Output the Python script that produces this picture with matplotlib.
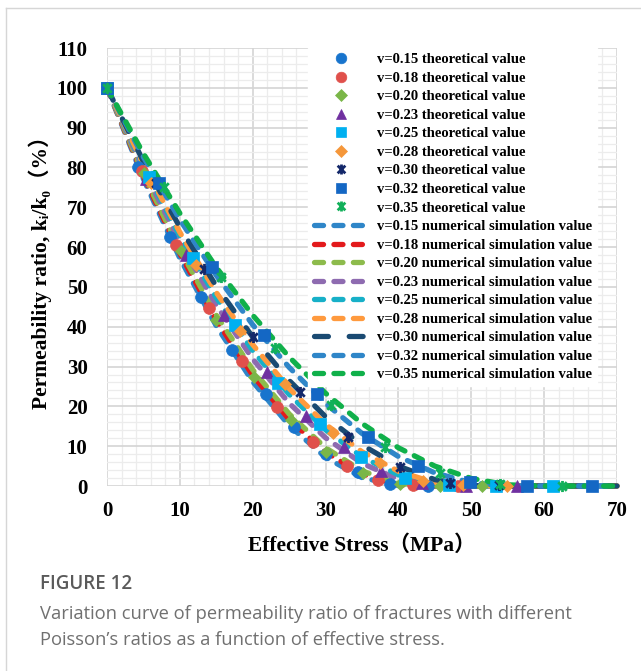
import matplotlib

matplotlib.use("Agg")
import matplotlib.pyplot as plt
from matplotlib.lines import Line2D
from matplotlib.path import Path
from matplotlib.ticker import MultipleLocator

# Poisson's ratios shown in the legend
poisson = ["0.15", "0.18", "0.20", "0.23", "0.25", "0.28", "0.30", "0.32", "0.35"]

# theoretical values (markers)
theory_x = [
    [0, 4.3, 8.6, 12.9, 17.2, 21.8, 25.6, 30.1, 34.4, 38.8, 44.0],
    [0, 4.75, 9.5, 14.0, 18.5, 23.4, 28.3, 32.9, 37.2, 42.0, 48.2],
    [0, 5.05, 10.1, 15.0, 20.2, 25.2, 30.1, 35.1, 40.2, 45.7, 51.5],
    [0, 5.4, 10.8, 16.0, 21.9, 27.3, 32.5, 37.6, 43.2, 49.3, 56.3],
    [0, 5.8, 11.8, 17.5, 23.5, 29.2, 34.9, 40.9, 46.9, 53.4, 61.2],
    [0, 6.1, 12.2, 18.3, 24.4, 31.0, 37.5, 43.4, 48.8, 54.9],
    [0, 6.7, 13.3, 20.1, 26.5, 33.1, 40.2, 47.1, 53.8],
    [0, 7.2, 14.4, 21.5, 28.8, 35.8, 42.7, 49.8, 57.6, 66.5],
    [0, 7.8, 15.6, 23.1, 30.8, 38.1, 45.7, 53.9, 62.4],
]
theory_y = [
    [100, 80, 62.5, 47.5, 34.2, 23.1, 14.8, 8.0, 3.5, 0.5, 0],
    [100, 79, 60.5, 44.6, 31.5, 19.9, 11.0, 4.9, 1.5, 0.3, 0],
    [100, 78.5, 59, 41.7, 27.5, 16.5, 8.6, 3.2, 0.5, 0, 0],
    [100, 77, 58, 43, 28.7, 17.6, 9.7, 3.7, 0.8, 0, 0],
    [100, 77.5, 57.3, 40.4, 25.9, 15.5, 7.3, 2.0, 0.3, 0, 0],
    [100, 76, 55.5, 39, 25.5, 13.4, 5.9, 1.3, 0.3, 0],
    [100, 76, 54.5, 37.4, 23.6, 12.3, 4.8, 0.7, 0.2],
    [100, 76, 55, 37.9, 23.2, 12.3, 5.0, 1.0, 0, 0],
    [100, 75.1, 52.5, 34.7, 20.3, 9.9, 3.2, 0.5, 0],
]

# numerical simulation values (dashed curves)
sim_x = [0, 5, 10, 15, 20, 25, 30, 35, 40, 45, 50, 55, 60, 65, 70]
sim_y = [
    [100, 77.1, 57.2, 40.2, 26.2, 15.2, 7.2, 2.1, 0.1, 0, 0, 0, 0, 0, 0],
    [100, 77.8, 58.4, 41.6, 27.8, 16.7, 8.5, 3.0, 0.3, 0, 0, 0, 0, 0, 0],
    [100, 78.3, 59.3, 42.9, 29.2, 18.1, 9.6, 3.8, 0.6, 0, 0, 0, 0, 0, 0],
    [100, 79.4, 61.3, 45.4, 31.9, 20.8, 12.1, 5.7, 1.7, 0.1, 0, 0, 0, 0, 0],
    [100, 80.3, 62.7, 47.3, 34.0, 23.0, 14.1, 7.3, 2.8, 0.4, 0, 0, 0, 0, 0],
    [100, 80.8, 63.7, 48.6, 35.5, 24.5, 15.5, 8.6, 3.7, 0.8, 0, 0, 0, 0, 0],
    [100, 81.5, 65.0, 50.2, 37.4, 26.5, 17.4, 10.3, 5.0, 1.6, 0.1, 0, 0, 0, 0],
    [100, 82.6, 66.9, 52.9, 40.5, 29.8, 20.7, 13.2, 7.4, 3.3, 0.8, 0, 0, 0, 0],
    [100, 83.5, 68.5, 54.9, 42.9, 32.4, 23.3, 15.7, 9.6, 5.0, 1.9, 0.3, 0, 0, 0],
]

star = Path(
    [(-1, -1), (1, 1), (-1, 1), (1, -1), (0, -1.3), (0, 1.3)],
    [Path.MOVETO, Path.LINETO, Path.MOVETO, Path.LINETO, Path.MOVETO, Path.LINETO],
)
markers = ["o", "o", "D", "^", "s", "D", star, "s", star]
marker_sizes = [8.5, 8.5, 6.5, 8.5, 8.5, 6.5, 8, 8.5, 8]
marker_colors = ["#1874CD", "#E0504B", "#7AB648", "#7030A0", "#00B0F0",
                 "#F5973A", "#14286A", "#1467C4", "#12B05A"]
line_colors = ["#2F86C8", "#E31A1C", "#8DBB4C", "#8E6BB0", "#17B0C8",
               "#FF9A3E", "#1A4A72", "#2F86C8", "#10B04A"]
short_dash = (6.5, 7.5)
long_dash = (10, 15)

plt.rcParams["lines.scale_dashes"] = False
serif_bold = dict(family=["Liberation Serif", "DejaVu Serif", "Noto Sans CJK SC"],
                  weight="bold")

fig = plt.figure(figsize=(6.41, 6.71), dpi=100)
ax = fig.add_axes([107 / 641, 185 / 671, 510 / 641, 438 / 671])

handles = []
for i, nu in enumerate(poisson):
    dash = long_dash if nu == "0.30" else short_dash
    ax.plot(sim_x, sim_y[i], color=line_colors[i], lw=3.8, dashes=dash,
            dash_capstyle="round", zorder=2, clip_on=False)
for i, nu in enumerate(poisson):
    is_star = markers[i] is star
    ax.plot(theory_x[i], theory_y[i], ls="none", marker=markers[i],
            ms=marker_sizes[i], color=marker_colors[i],
            mec=marker_colors[i], mew=2.0 if is_star else 0.5,
            zorder=3, clip_on=False)
    handles.append(Line2D([], [], ls="none", marker=markers[i],
                          ms=marker_sizes[i] * 0.9, color=marker_colors[i],
                          mew=2.0 if is_star else 0.5,
                          label=f"v={nu} theoretical value"))
for i, nu in enumerate(poisson):
    dash = long_dash if nu == "0.30" else short_dash
    handles.append(Line2D([], [], color=line_colors[i], lw=3.8, dashes=dash,
                          dash_capstyle="round",
                          label=f"v={nu} numerical simulation value"))

ax.set_xlim(0, 70)
ax.set_ylim(0, 110)
ax.set_xticks(range(0, 71, 10))
ax.set_yticks(range(0, 111, 10))
ax.xaxis.set_minor_locator(MultipleLocator(2))
ax.yaxis.set_minor_locator(MultipleLocator(2))
ax.grid(which="major", color="#D4D4D4", lw=1.2, zorder=0)
ax.grid(which="minor", color="#ECECEC", lw=0.9, zorder=0)
ax.set_axisbelow(True)
for side in ax.spines.values():
    side.set_visible(False)
ax.tick_params(which="both", length=0)
ax.tick_params(axis="x", pad=11)
ax.tick_params(axis="y", pad=14)
for lab in ax.get_xticklabels() + ax.get_yticklabels():
    lab.set_fontproperties(dict(serif_bold, size=15))

ax.set_xlabel("Effective Stress（MPa）", fontsize=15.5, labelpad=10, **serif_bold)
ax.set_ylabel("Permeability ratio, kᵢ/k₀（%）", fontsize=15.5, labelpad=3,
              **serif_bold)

leg = ax.legend(handles=handles, loc="upper left", bbox_to_anchor=(0.395, 1.0),
                borderaxespad=0, borderpad=0.35, labelspacing=0.365,
                handlelength=3.7, handletextpad=0.65, frameon=True,
                fancybox=False, framealpha=1.0,
                prop=dict(serif_bold, size=10.5))
leg.get_frame().set_edgecolor("white")
leg.set_zorder(5)

# card border
fig.add_artist(Line2D([6 / 641, 6 / 641], [0, 1 - 8 / 671], color="#D6D6D6",
                      lw=1, transform=fig.transFigure))
fig.add_artist(Line2D([6 / 641, 1], [1 - 8 / 671, 1 - 8 / 671],
                      color="#D6D6D6", lw=1, transform=fig.transFigure))

fig.text(40 / 641, 1 - 584 / 671, "FIGURE 12", fontsize=13.5, va="center",
         family="Open Sans", weight="semibold", color="#5A5A5A")
fig.text(40 / 641, 1 - 614 / 671,
         "Variation curve of permeability ratio of fractures with different",
         fontsize=13.2, va="center", family="Open Sans", color="#707070")
fig.text(40 / 641, 1 - 640 / 671,
         "Poisson’s ratios as a function of effective stress.",
         fontsize=13.2, va="center", family="Open Sans", color="#707070")

fig.savefig("out.png", dpi=100)
